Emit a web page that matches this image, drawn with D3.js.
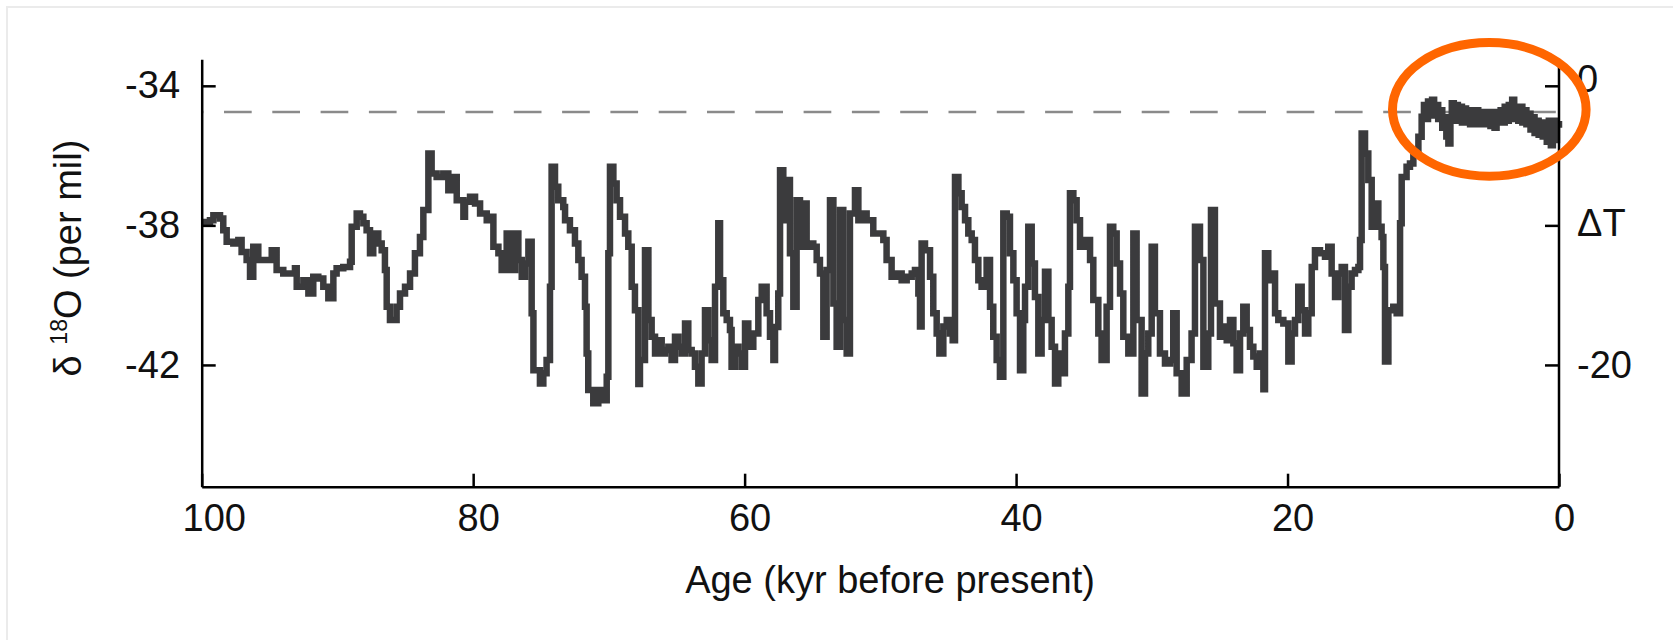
<!DOCTYPE html>
<html><head><meta charset="utf-8">
<script src="https://cdn.jsdelivr.net/npm/d3@7"></script>
<style>body{margin:0;background:#fff;} text{font-family:"Liberation Sans",Arial,Helvetica,sans-serif;}</style>
</head><body><svg id="c" width="1673" height="640"></svg>
<script>
// GISP2-style oxygen isotope record, ages in kyr before present
const ageKyr = [
100.0,99.39,99.14,98.65,98.41,98.16,97.67,97.30,97.06,96.69,96.44,96.20,95.83,95.34,94.84,94.48,93.99,93.49,93.13,93.00,
92.51,92.14,91.78,91.41,91.04,90.67,90.30,90.06,89.57,89.07,88.95,88.58,88.34,88.09,87.85,87.60,87.36,86.99,86.74,86.50,
86.37,86.13,85.88,85.64,85.39,85.02,84.65,84.29,83.92,83.67,83.30,83.06,82.69,82.20,81.83,81.58,81.21,80.72,80.60,80.23,
79.86,79.49,79.00,78.63,78.51,78.14,77.90,77.53,77.16,76.91,76.67,76.42,76.18,75.93,75.69,75.56,
75.08,74.83,74.59,74.34,74.22,73.97,73.73,73.36,73.23,72.87,72.50,72.25,72.01,71.76,71.64,71.52,71.15,70.78,70.41,70.16,
70.04,69.92,69.67,69.43,69.18,68.81,68.57,68.32,68.08,67.83,67.71,67.34,67.09,66.85,66.60,66.36,66.11,65.87,65.62,65.38,
65.13,64.88,64.64,64.39,64.15,63.90,63.66,63.41,63.17,62.92,62.67,62.43,62.18,61.94,61.81,61.57,61.32,61.08,60.96,60.71,
60.46,60.22,59.97,59.73,59.36,58.99,58.74,58.38,58.13,57.88,57.76,57.52,57.39,57.15,56.90,56.66,56.41,56.17,55.92,55.68,
55.43,55.18,54.94,54.69,54.45,54.20,53.96,53.71,53.46,53.22,52.97,52.73,52.48,52.24,51.87,51.62,51.38,51.01,50.52,
50.03,49.78,49.54,49.17,48.80,48.43,48.06,47.69,47.45,47.20,47.08,46.96,46.71,46.34,46.10,45.85,45.65,45.36,45.11,44.87,
44.67,44.50,44.25,44.01,43.76,43.52,43.27,43.03,42.78,42.54,42.17,41.92,41.68,41.43,41.19,40.94,40.69,40.45,40.20,39.96,
39.71,39.47,39.34,39.10,38.85,38.61,38.36,38.12,37.87,37.62,37.38,37.13,36.89,36.64,36.40,36.15,36.03,35.78,35.54,35.29,
34.92,34.55,34.31,33.94,33.70,33.33,33.08,32.84,32.59,32.34,32.10,31.73,31.36,31.12,30.75,30.50,30.26,30.01,29.77,29.40,
29.03,28.66,28.42,28.17,27.80,27.43,27.07,26.82,26.45,26.20,25.84,25.64,25.35,
24.98,24.73,24.48,24.24,23.99,23.75,23.50,23.26,23.01,22.77,22.52,22.27,22.03,21.78,21.66,21.42,21.17,20.92,20.68,20.31,
19.94,19.70,19.45,19.21,18.96,18.71,18.47,18.22,17.98,17.61,17.24,17.00,16.75,16.50,16.26,16.01,15.77,15.52,15.28,15.03,
14.78,14.66,14.54,14.29,14.05,13.80,13.56,13.31,13.07,12.94,12.82,12.57,12.21,11.96,11.71,11.59,11.23,10.98,10.73,10.36,
10.12,9.95,9.80,9.65,9.50,9.35,9.20,9.05,8.90,8.75,8.60,8.45,8.30,8.15,8.00,7.90,7.75,7.60,7.45,7.30,
7.15,7.00,6.85,6.70,6.55,6.40,6.25,6.10,5.95,5.80,5.65,5.50,5.35,5.20,5.05,4.90,4.75,4.60,4.45,4.30,
4.15,4.00,3.85,3.70,3.55,3.45,3.30,3.15,3.00,2.85,2.70,2.55,2.40,2.25,2.10,1.95,1.80,1.65,1.50,1.35,
1.20,1.05,0.90,0.75,0.60,0.45,0.30,0.15,0.00
];
const d18O = [
-37.90,-37.85,-37.71,-37.80,-38.14,-38.47,-38.52,-38.42,-38.76,-38.99,-39.47,-38.61,-38.99,-38.99,-38.71,-39.28,-39.38,-39.38,-39.23,-39.76,
-39.57,-39.95,-39.47,-39.52,-39.76,-40.09,-39.38,-39.23,-39.19,-39.04,-38.04,-37.66,-37.75,-37.94,-38.14,-38.80,-38.23,-38.52,-38.71,-39.28,
-40.33,-40.71,-40.71,-40.33,-39.95,-39.76,-39.38,-38.80,-38.33,-37.56,-35.94,-36.51,-36.61,-36.51,-36.99,-36.61,-37.28,-37.75,-37.32,-37.18,
-37.37,-37.66,-37.85,-37.75,-38.61,-38.80,-39.28,-38.23,-39.28,-38.23,-38.99,-39.47,-39.09,-38.47,-40.52,-42.15,
-42.53,-42.24,-41.86,-39.76,-36.32,-36.89,-37.28,-37.47,-37.85,-38.14,-38.52,-38.99,-39.47,-40.33,-41.67,-42.72,-43.10,-42.72,-43.01,-42.34,
-38.80,-36.32,-36.80,-37.28,-37.75,-38.23,-38.61,-39.76,-40.43,-42.55,-41.86,-38.71,-40.71,-41.19,-41.67,-41.29,-41.67,-41.57,-41.48,-41.86,
-41.19,-41.48,-41.67,-40.81,-41.57,-41.67,-42.05,-42.53,-41.67,-40.43,-41.29,-41.86,-39.76,-37.94,-39.57,-40.52,-40.71,-41.00,-42.05,-41.48,
-41.67,-42.05,-40.81,-41.48,-41.10,-40.14,-39.76,-40.52,-41.19,-41.86,-40.91,-39.95,-36.42,-37.85,-36.70,-38.80,-40.33,-37.28,-38.61,-37.37,
-38.61,-38.52,-38.61,-38.99,-39.38,-41.19,-39.28,-37.28,-40.24,-41.48,-37.56,-40.71,-41.67,-37.66,-36.99,-37.85,-37.66,-37.85,-38.23,
-38.23,-38.42,-38.99,-39.47,-39.38,-39.57,-39.47,-39.38,-39.28,-39.95,-40.90,-38.52,-38.71,-39.47,-40.52,-41.10,-41.67,-40.90,-40.71,-41.10,
-41.29,-36.61,-37.08,-37.47,-37.85,-38.23,-38.42,-38.99,-39.57,-39.76,-38.99,-40.33,-41.19,-41.86,-42.34,-37.66,-37.75,-38.80,-39.57,-40.52,
-42.15,-40.71,-39.76,-38.04,-39.09,-40.05,-41.67,-40.71,-39.33,-40.71,-41.48,-42.53,-41.67,-42.24,-41.10,-39.76,-37.08,-37.28,-37.85,-38.61,
-38.42,-38.99,-40.14,-41.10,-41.86,-40.33,-38.04,-38.23,-39.09,-39.95,-41.19,-41.67,-38.23,-40.71,-42.82,-41.67,-41.10,-38.61,-40.52,-41.67,
-41.96,-41.86,-40.52,-42.24,-42.82,-41.86,-41.10,-38.04,-38.99,-42.05,-41.10,-37.56,-40.24,
-41.19,-40.90,-41.29,-40.71,-41.38,-42.15,-41.10,-40.33,-41.00,-41.48,-41.76,-42.05,-41.67,-42.70,-38.80,-39.57,-39.38,-40.52,-40.71,-40.81,
-41.90,-41.10,-40.71,-39.76,-40.43,-41.10,-40.52,-39.19,-38.71,-38.80,-38.90,-38.61,-39.38,-40.05,-39.38,-39.19,-41.00,-39.76,-39.38,-39.28,
-39.19,-38.42,-35.37,-35.94,-36.70,-38.04,-37.37,-38.04,-38.33,-39.19,-41.90,-40.43,-40.33,-40.52,-37.94,-36.61,-36.32,-36.23,-35.94,-35.46,
-34.89,-34.55,-34.95,-34.45,-34.85,-34.40,-34.80,-34.55,-34.95,-34.70,-35.20,-34.90,-35.45,-35.65,-35.00,-34.50,-34.95,-34.55,-35.00,-34.60,
-35.05,-34.65,-35.05,-34.70,-35.10,-34.75,-35.05,-34.70,-35.10,-34.75,-35.05,-34.75,-35.10,-34.75,-35.15,-34.80,-35.20,-34.75,-35.05,-34.70,
-35.05,-34.60,-35.00,-34.55,-34.95,-34.40,-34.90,-34.60,-35.00,-34.60,-35.05,-34.70,-35.10,-34.80,-35.25,-34.90,-35.35,-35.00,-35.40,-35.05,
-35.45,-35.10,-35.60,-35.00,-35.70,-35.00,-35.55,-35.10,-35.20
];
const xTickValues = [100, 80, 60, 40, 20, 0];
const yTickValues = [-34, -38, -42];
const rightTickValues = [0, -10, -20];
const rightTickLabels = ["0", "ΔT", "-20"];
const presentLevel = [-34.75];

const svg = d3.select("#c");
const x = d3.scaleLinear().domain([100, 0]).range([201.7, 1559]);
const y = d3.scaleLinear().domain([-33.24, -45.49]).range([59.3, 486.7]);
const yT = d3.scaleLinear().domain([0, -20]).range([y(-34), y(-42)]);

// faint page frame
svg.append("path").attr("d", "M7,640V7H1673").attr("fill", "none").attr("stroke", "#ebebeb").attr("stroke-width", 2);

// dashed present-day reference
svg.selectAll("line.ref").data(presentLevel).join("line").attr("class", "ref")
  .attr("x1", x(100)).attr("x2", x(0)).attr("y1", d => y(d)).attr("y2", d => y(d))
  .attr("stroke", "#8a8a8a").attr("stroke-width", 2.5)
  .attr("stroke-dasharray", "27.7 20.6").attr("stroke-dashoffset", 26);

// data line
const data = ageKyr.map((a, i) => ({ a, v: d18O[i] }));
svg.append("path").datum(data)
  .attr("d", d3.line().x(d => x(d.a)).y(d => y(d.v)).curve(d3.curveStepAfter))
  .attr("fill", "none").attr("stroke", "#3b3b3d").attr("stroke-width", 6.5).attr("stroke-linejoin", "miter");

// bottom axis
const gx = svg.append("g").attr("transform", `translate(0,${y.range()[1]})`)
  .call(d3.axisBottom(x).tickValues(xTickValues).tickFormat(d => String(d)).tickSizeInner(-13).tickSizeOuter(0));
gx.select(".domain").attr("stroke", "#000").attr("stroke-width", 2.5);
gx.selectAll(".tick line").attr("stroke", "#000").attr("stroke-width", 2.5);
gx.selectAll(".tick text").attr("font-size", 38).attr("fill", "#111").attr("y", 44).attr("dy", 0)
  .attr("dx", d => d === 100 ? 12 : 5).attr("font-family", null);

// left axis
const gy = svg.append("g").attr("transform", `translate(${x(100)},0)`)
  .call(d3.axisLeft(y).tickValues(yTickValues).tickFormat(d => String(d)).tickSizeInner(-14).tickSizeOuter(0).tickPadding(21.7));
gy.select(".domain").attr("stroke", "#000").attr("stroke-width", 2.5);
gy.selectAll(".tick line").attr("stroke", "#000").attr("stroke-width", 2.5);
gy.selectAll(".tick text").attr("font-size", 38).attr("fill", "#111").attr("font-family", null);

// right axis
const gr = svg.append("g").attr("transform", `translate(${x(0)},0)`)
  .call(d3.axisRight(yT).tickValues(rightTickValues).tickFormat((d, i) => rightTickLabels[i]).tickSizeInner(-14).tickSizeOuter(0).tickPadding(18));
gr.select(".domain").remove();
gr.selectAll(".tick line").attr("stroke", "#000").attr("stroke-width", 2.5);
gr.selectAll(".tick text").attr("font-size", 38).attr("fill", "#111").attr("font-family", null)
  .attr("y", (d, i) => [-6, -2, 0][i]);
svg.append("line").attr("x1", x(0)).attr("x2", x(0)).attr("y1", 66).attr("y2", y.range()[1])
  .attr("stroke", "#000").attr("stroke-width", 2.5);

// axis titles
const yl = svg.append("text").attr("transform", "translate(81,258) rotate(-90)")
  .attr("text-anchor", "middle").attr("font-size", 38).attr("fill", "#111");
yl.append("tspan").text("δ ");
yl.append("tspan").attr("font-size", 23).attr("dy", -14).text("18");
yl.append("tspan").attr("dy", 14).text("O (per mil)");

svg.append("text").attr("x", 890).attr("y", 593).attr("text-anchor", "middle")
  .attr("font-size", 38).attr("fill", "#111").text("Age (kyr before present)");

// orange highlight around the Holocene
svg.append("ellipse").attr("cx", 1489.3).attr("cy", 109.4).attr("rx", 96.8).attr("ry", 66.8)
  .attr("fill", "none").attr("stroke", "#ff6600").attr("stroke-width", 9);
</script></body></html>
